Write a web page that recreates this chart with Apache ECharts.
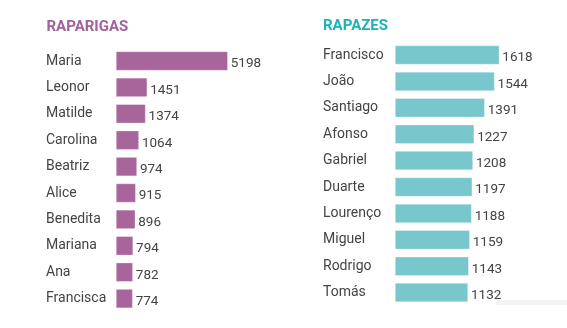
<!DOCTYPE html>
<html><head><meta charset="utf-8">
<script src="https://cdn.jsdelivr.net/npm/echarts@6/dist/echarts.min.js"></script>
<style>html,body{margin:0;padding:0;background:#fff}#c{width:567px;height:328px}</style>
</head><body><div id="c"></div>
<script>
const girlsTitle = 'RAPARIGAS';
const boysTitle = 'RAPAZES';
const girlNames = ['Maria','Leonor','Matilde','Carolina','Beatriz','Alice','Benedita','Mariana','Ana','Francisca'];
const girlValues = [5198,1451,1374,1064,974,915,896,794,782,774];
const boyNames = ['Francisco','João','Santiago','Afonso','Gabriel','Duarte','Lourenço','Miguel','Rodrigo','Tomás'];
const boyValues = [1618,1544,1391,1227,1208,1197,1188,1159,1143,1132];

const FONT = 'Roboto, "Open Sans", sans-serif';
const purple = '#a8659c';
const teal = '#78c7cc';

const chart = echarts.init(document.getElementById('c'), null, {renderer:'canvas'});
function yAx(idx, names, margin){
  return {gridIndex: idx, type:'category', data:names, inverse:true,
    axisLine:{show:false}, axisTick:{show:false},
    axisLabel:{align:'left', margin: margin, color:'#444', fontSize:14, fontFamily:FONT}};
}
function xAx(idx, max){
  return {gridIndex: idx, type:'value', min:0, max:max, show:false, splitLine:{show:false}};
}
function ser(idx, vals, color){
  return {type:'bar', xAxisIndex:idx, yAxisIndex:idx, data:vals, barWidth:19,
    itemStyle:{color:color, borderColor:'rgba(255,255,255,0.6)', borderWidth:0.5},
    label:{show:true, position:'right', distance:3, offset:[0,3], color:'#444', fontSize:13.5, fontFamily:FONT},
    silent:true, animation:false};
}
chart.setOption({
  animation:false,
  title:[
    {text:girlsTitle, left:41.5, top:15, textStyle:{color:'#a3609a', fontSize:15, fontWeight:'bold', fontFamily:FONT}},
    {text:boysTitle, left:318, top:14, textStyle:{color:'#1bb3b6', fontSize:15, fontWeight:'bold', fontFamily:FONT}}
  ],
  grid:[
    {left:116, top:47.8, width:129, height:264},
    {left:395, top:41.8, width:129, height:264}
  ],
  xAxis:[xAx(0,6000), xAx(1,2000)],
  yAxis:[yAx(0,girlNames,70), yAx(1,boyNames,72)],
  series:[ser(0,girlValues,purple), ser(1,boyValues,teal)],
  graphic:[{type:'rect', shape:{x:496, y:300, width:71, height:5}, style:{fill:'#f3f3f3'}, z:-1}]
});
</script></body></html>
